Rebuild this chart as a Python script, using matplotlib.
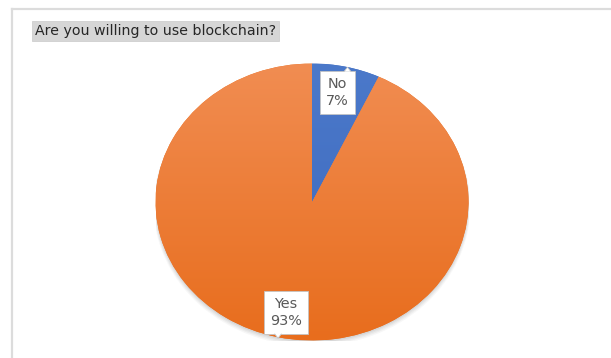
import numpy as np
import matplotlib
matplotlib.use("Agg")
import matplotlib.pyplot as plt
from matplotlib.colors import LinearSegmentedColormap
from matplotlib.patches import Ellipse, Polygon
from matplotlib.lines import Line2D
from matplotlib.transforms import IdentityTransform

# Survey answers
categories = ["No", "Yes"]
shares = [7, 93]
title = "Are you willing to use blockchain?"

W, H = 611, 358
fig = plt.figure(figsize=(W / 100, H / 100), dpi=100)
fig.patch.set_facecolor("white")

# thin frame lines along top and left edge
fig.add_artist(Line2D([12 / W, 1], [1 - 9 / H, 1 - 9 / H], color="#dcdcdc", lw=1.6))
fig.add_artist(Line2D([12 / W, 12 / W], [0, 1 - 9 / H], color="#dcdcdc", lw=1.6))

# title in a grey box
fig.text(35 / W, 1 - 31 / H, title, fontsize=10.2, color="#262626",
         family="DejaVu Sans", va="center", ha="left",
         bbox=dict(boxstyle="square,pad=0.22", fc="#d6d6d6", ec="#cfcfcf", lw=0.6))

# pie axes (stretched into an ellipse)
cx, cy, rx, ry = 312, 202, 156.5, 138.5
ax = fig.add_axes([(cx - rx) / W, 1 - (cy + ry) / H, 2 * rx / W, 2 * ry / H])

# soft shadow under the pie
for i, a in enumerate([0.04, 0.05, 0.06, 0.08]):
    off = 0.03 - i * 0.006
    ax.add_patch(Ellipse((0, -off), 2.0 + 0.008 * (3 - i), 2.0 + 0.008 * (3 - i),
                         fc="#444444", ec="none", alpha=a, zorder=0))

top_cols = ["#4b79ca", "#f18d52"]
bot_cols = ["#3d68bd", "#e86d1d"]
wedges, _ = ax.pie(shares, startangle=90, counterclock=False,
                   colors=bot_cols, radius=1.0, center=(0, 0),
                   wedgeprops=dict(lw=0, zorder=1))
ax.set_aspect("auto")
ax.set_xlim(-1, 1)
ax.set_ylim(-1, 1)
ax.axis("off")

grad = np.linspace(0, 1, 256).reshape(-1, 1)
for w, c0, c1 in zip(wedges, top_cols, bot_cols):
    cmap = LinearSegmentedColormap.from_list("g", [c0, c1])
    im = ax.imshow(grad, cmap=cmap, extent=[-1, 1, -1, 1], origin="upper",
                   aspect="auto", zorder=2, interpolation="bilinear")
    im.set_clip_path(w)

# data labels (position in axes units, callout side, pointer offset from box centre in px)
label_pos = {"No": (0.163, 0.79, "up", 10), "Yes": (-0.166, -0.80, "down", -8)}
texts = []
for cat, val in zip(categories, shares):
    x, y, side, dx = label_pos[cat]
    t = ax.text(x, y, f"{cat}\n{val}%", ha="center", va="center", fontsize=10.4,
                color="#595959", family="DejaVu Sans", linespacing=1.3, zorder=5,
                bbox=dict(boxstyle="square,pad=0.4", fc="white", ec="#c4c4c4", lw=0.6))
    texts.append((t, side, dx))

fig.canvas.draw()
for t, side, dx in texts:
    bb = t.get_bbox_patch().get_window_extent()
    xm = (bb.x0 + bb.x1) / 2 + dx
    if side == "up":
        yb = bb.y1
        pts = [(xm - 3.5, yb - 0.5), (xm, yb + 4), (xm + 3.5, yb - 0.5)]
    else:
        yb = bb.y0
        pts = [(xm - 3.5, yb + 0.5), (xm, yb - 4), (xm + 3.5, yb + 0.5)]
    tri = Polygon(pts, closed=False, fc="white", ec="#c4c4c4", lw=0.6,
                  transform=IdentityTransform(), zorder=6, clip_on=False)
    ax.add_artist(tri)

fig.savefig("out.png", dpi=100, facecolor="white")
